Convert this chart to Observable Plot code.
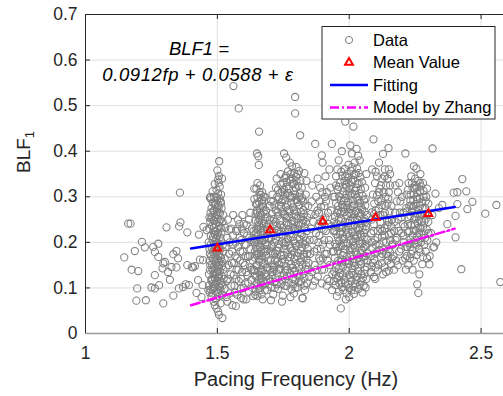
<!DOCTYPE html>
<html><head><meta charset="utf-8">
<script src="https://cdn.jsdelivr.net/npm/d3@7"></script>
<script src="https://cdn.jsdelivr.net/npm/@observablehq/plot@0.6"></script>
<style>body{margin:0;background:#fff} svg{display:block}</style>
</head><body><div id="chart"></div>
<script>
// ---- data ----
const ptsLeft = [[1.147,0.167],[1.162,0.241],[1.171,0.241],[1.175,0.140],[1.200,0.137],[1.187,0.181],[1.214,0.201],[1.225,0.189],[1.196,0.099],[1.193,0.072],[1.229,0.073],[1.257,0.190],[1.276,0.197],[1.263,0.179],[1.276,0.168],[1.263,0.128],[1.250,0.101],[1.263,0.099],[1.279,0.106],[1.295,0.066],[1.292,0.143],[1.295,0.154],[1.301,0.157],[1.307,0.233],[1.313,0.135],[1.320,0.118],[1.326,0.146],[1.333,0.174],[1.333,0.083],[1.345,0.181],[1.345,0.145],[1.351,0.165],[1.354,0.099],[1.355,0.235],[1.358,0.309],[1.360,0.244],[1.370,0.102],[1.386,0.222],[1.386,0.150],[1.392,0.106],[1.408,0.145],[1.415,0.148],[1.421,0.089],[1.427,0.117],[1.430,0.217],[1.434,0.162],[1.440,0.080],[1.446,0.161],[1.447,0.234],[1.459,0.227],[1.466,0.095],[1.444,0.106],[1.472,0.298],[1.477,0.252],[1.380,0.108],[1.403,0.146]];
const ptsCol150 = [[1.519,0.034],[1.506,0.041],[1.503,0.048],[1.497,0.055],[1.490,0.062],[1.486,0.070],[1.512,0.066],[1.495,0.075],[1.478,0.080],[1.508,0.082],[1.481,0.088],[1.497,0.091],[1.512,0.094],[1.474,0.097],[1.489,0.100],[1.505,0.103],[1.520,0.106],[1.483,0.109],[1.496,0.112],[1.511,0.115],[1.477,0.118],[1.491,0.121],[1.503,0.124],[1.516,0.127],[1.485,0.130],[1.498,0.133],[1.509,0.136],[1.472,0.139],[1.492,0.142],[1.504,0.145],[1.518,0.148],[1.480,0.151],[1.495,0.154],[1.507,0.157],[1.488,0.160],[1.500,0.163],[1.514,0.166],[1.476,0.169],[1.493,0.172],[1.506,0.175],[1.484,0.178],[1.499,0.181],[1.511,0.184],[1.479,0.187],[1.494,0.190],[1.508,0.193],[1.487,0.196],[1.501,0.199],[1.515,0.202],[1.482,0.205],[1.496,0.208],[1.510,0.211],[1.475,0.214],[1.490,0.217],[1.503,0.220],[1.486,0.224],[1.500,0.228],[1.513,0.232],[1.480,0.236],[1.494,0.240],[1.507,0.244],[1.489,0.248],[1.502,0.252],[1.478,0.256],[1.496,0.260],[1.510,0.264],[1.485,0.268],[1.499,0.272],[1.505,0.277],[1.491,0.282],[1.483,0.287],[1.498,0.292],[1.509,0.296],[1.474,0.300],[1.488,0.299],[1.503,0.307],[1.497,0.315],[1.509,0.322],[1.505,0.331],[1.503,0.338],[1.506,0.346],[1.507,0.378],[1.512,0.290],[1.476,0.295],[1.470,0.255],[1.522,0.180],[1.524,0.120],[1.468,0.130],[1.470,0.185],[1.520,0.245],[1.516,0.275],
  [1.468,0.105],[1.482,0.098],[1.510,0.101],[1.523,0.140],[1.470,0.160],[1.486,0.145],[1.502,0.138],[1.517,0.158],[1.472,0.175],[1.489,0.185],[1.505,0.188],[1.521,0.195],[1.467,0.200],[1.484,0.212],[1.499,0.216],[1.515,0.222],[1.469,0.230],[1.487,0.232],[1.508,0.236],[1.522,0.260],[1.473,0.245],[1.492,0.255],[1.505,0.266],[1.478,0.275],[1.493,0.285],[1.514,0.286],[1.480,0.120],[1.501,0.115],[1.515,0.110],[1.490,0.132],[1.471,0.090],[1.503,0.090],[1.518,0.085],[1.486,0.248],[1.496,0.300],[1.482,0.312],[1.514,0.305],[1.490,0.328],[1.518,0.340],[1.500,0.358],
  [1.479,0.115],[1.506,0.125],[1.473,0.150],[1.500,0.150],[1.483,0.165],[1.509,0.170],[1.475,0.195],[1.497,0.198],[1.493,0.225],[1.511,0.250],[1.474,0.265],[1.503,0.282],[1.488,0.270],[1.481,0.140],[1.492,0.108]];
const ptsGap155 = [[1.527,0.098],[1.533,0.145],[1.538,0.210],[1.541,0.120],[1.545,0.175],[1.548,0.088],[1.552,0.230],[1.555,0.155],[1.557,0.062],[1.560,0.195],[1.562,0.128],[1.565,0.105],[1.568,0.170],[1.571,0.225],[1.573,0.140],[1.576,0.085],[1.579,0.190],[1.581,0.115],[1.583,0.240],[1.586,0.160],[1.589,0.098],[1.591,0.205],[1.594,0.135],[1.596,0.180],[1.599,0.075],[1.601,0.220],[1.604,0.150],[1.606,0.110],[1.609,0.195],[1.611,0.238],[1.614,0.128],[1.616,0.168],[1.619,0.092],[1.621,0.210],[1.624,0.145],[1.626,0.185],[1.629,0.118],[1.631,0.230],[1.634,0.160],[1.636,0.082],[1.639,0.200],[1.641,0.138],[1.561,0.543],[1.581,0.494],[1.530,0.232],[1.545,0.228],[1.575,0.230],[1.600,0.240],[1.535,0.080],[1.590,0.078],
  [1.528,0.165],[1.531,0.190],[1.536,0.115],[1.540,0.250],[1.543,0.150],[1.547,0.200],[1.550,0.130],[1.553,0.105],[1.556,0.180],[1.559,0.215],[1.563,0.155],[1.566,0.090],[1.569,0.200],[1.572,0.120],[1.575,0.165],[1.578,0.250],[1.580,0.140],[1.584,0.210],[1.587,0.180],[1.590,0.120],[1.593,0.230],[1.597,0.155],[1.600,0.100],[1.603,0.195],[1.607,0.170],[1.610,0.135],[1.613,0.215],[1.617,0.110],[1.620,0.250],[1.623,0.170],[1.627,0.205],[1.630,0.140],[1.633,0.100],[1.637,0.225],[1.538,0.070],[1.570,0.060],[1.610,0.075],[1.625,0.265],[1.595,0.260],[1.560,0.260]];
const ptsCol165 = [[1.658,0.443],[1.650,0.395],[1.655,0.389],[1.657,0.370],[1.652,0.330],[1.648,0.318],[1.662,0.325],[1.670,0.310],[1.640,0.318],[1.675,0.300],[1.652,0.082],[1.668,0.086],[1.645,0.092],[1.680,0.095],[1.660,0.100],[1.673,0.105],[1.648,0.110],[1.686,0.114],[1.657,0.118],[1.669,0.122],[1.643,0.127],[1.680,0.131],[1.654,0.136],[1.665,0.140],[1.690,0.144],[1.647,0.149],[1.676,0.153],[1.659,0.158],[1.671,0.162],[1.641,0.167],[1.684,0.171],[1.651,0.176],[1.664,0.180],[1.678,0.185],[1.646,0.189],[1.688,0.194],[1.656,0.198],[1.670,0.203],[1.643,0.207],[1.681,0.212],[1.653,0.216],[1.666,0.221],[1.675,0.225],[1.648,0.230],[1.686,0.234],[1.658,0.239],[1.671,0.243],[1.644,0.248],[1.680,0.252],[1.655,0.257],[1.667,0.261],[1.650,0.266],[1.684,0.270],[1.661,0.275],[1.673,0.279],[1.646,0.284],[1.657,0.289],[1.669,0.293],[1.652,0.298],[1.664,0.304],[1.661,0.095],[1.685,0.125],[1.650,0.150],[1.674,0.178],[1.660,0.208],[1.691,0.220],[1.645,0.262],[1.676,0.240],[1.662,0.265],[1.640,0.200],[1.692,0.160],[1.668,0.135],[1.655,0.245],[1.682,0.195],[1.649,0.172],
  [1.638,0.140],[1.642,0.180],[1.646,0.220],[1.650,0.270],[1.654,0.105],[1.658,0.162],[1.662,0.190],[1.666,0.232],[1.670,0.285],[1.674,0.115],[1.678,0.205],[1.682,0.262],[1.686,0.145],[1.690,0.185],[1.694,0.240],[1.697,0.120],[1.698,0.280],[1.640,0.295],[1.660,0.310],[1.680,0.300],[1.644,0.085],[1.672,0.075],[1.688,0.095],[1.696,0.210],[1.663,0.128],[1.676,0.268],[1.653,0.228],[1.668,0.170],
  [1.648,0.125],[1.672,0.140],[1.656,0.175],[1.683,0.180],[1.648,0.200],[1.673,0.215],[1.660,0.250],[1.690,0.255],[1.650,0.285],[1.678,0.290],[1.665,0.110],[1.688,0.228]];
const ptsCol175 = [[1.712,0.086],[1.748,0.083],[1.790,0.088],[1.823,0.078],[1.705,0.102],[1.731,0.098],[1.762,0.104],[1.781,0.097],[1.804,0.101],[1.832,0.095],[1.717,0.113],[1.744,0.117],[1.770,0.112],[1.796,0.118],[1.818,0.114],[1.840,0.110],[1.708,0.128],[1.726,0.132],[1.753,0.127],[1.776,0.133],[1.801,0.129],[1.826,0.131],[1.715,0.146],[1.738,0.142],[1.760,0.148],[1.786,0.144],[1.809,0.147],[1.834,0.141],[1.703,0.161],[1.729,0.158],[1.747,0.163],[1.771,0.159],[1.793,0.164],[1.815,0.157],[1.838,0.162],[1.719,0.176],[1.741,0.172],[1.764,0.178],[1.782,0.173],[1.806,0.177],[1.828,0.174],[1.706,0.191],[1.733,0.188],[1.756,0.193],[1.778,0.187],[1.799,0.192],[1.821,0.189],[1.842,0.186],[1.722,0.206],[1.745,0.202],[1.767,0.208],[1.790,0.203],[1.812,0.207],[1.835,0.204],[1.710,0.221],[1.736,0.218],[1.758,0.223],[1.775,0.219],[1.797,0.224],[1.820,0.217],[1.725,0.236],[1.750,0.232],[1.769,0.238],[1.788,0.233],[1.808,0.237],[1.830,0.234],[1.713,0.251],[1.739,0.248],[1.761,0.253],[1.784,0.247],[1.803,0.252],[1.826,0.249],[1.728,0.266],[1.752,0.262],[1.773,0.268],[1.795,0.263],[1.816,0.267],[1.716,0.281],[1.742,0.278],[1.765,0.283],[1.787,0.277],[1.810,0.282],[1.833,0.279],[1.734,0.296],[1.757,0.292],[1.779,0.298],[1.800,0.293],[1.822,0.297],[1.746,0.311],[1.768,0.308],[1.791,0.313],[1.813,0.309],[1.740,0.326],[1.762,0.322],[1.785,0.328],[1.806,0.324],[1.755,0.341],[1.777,0.338],[1.798,0.344],[1.768,0.356],[1.792,0.352],[1.810,0.357],[1.795,0.519],[1.795,0.483],[1.814,0.435],[1.753,0.395],[1.761,0.386],[1.775,0.375],[1.800,0.365],[1.783,0.367],[1.823,0.077],[1.703,0.073],[1.745,0.070],[1.777,0.080],[1.820,0.320],[1.838,0.335],[1.830,0.352],[1.740,0.350],[1.727,0.300],[1.709,0.305],[1.703,0.290],[1.725,0.108],[1.758,0.120],[1.788,0.108],[1.812,0.123],[1.735,0.152],[1.768,0.168],[1.799,0.153],[1.827,0.168],[1.722,0.182],[1.751,0.198],[1.784,0.182],[1.811,0.196],[1.732,0.228],[1.762,0.243],[1.794,0.229],[1.823,0.243],[1.730,0.258],[1.770,0.272],[1.798,0.257],[1.826,0.271],[1.744,0.288],[1.775,0.302],[1.804,0.288],[1.752,0.316],[1.790,0.330],[1.714,0.140],[1.716,0.200],[1.712,0.240],[1.839,0.225],[1.841,0.255],
  [1.702,0.115],[1.720,0.122],[1.742,0.108],[1.764,0.126],[1.786,0.120],[1.808,0.112],[1.830,0.122],[1.706,0.150],[1.724,0.165],[1.744,0.155],[1.757,0.138],[1.779,0.152],[1.795,0.138],[1.817,0.165],[1.836,0.150],[1.711,0.175],[1.732,0.196],[1.753,0.185],[1.773,0.195],[1.792,0.178],[1.815,0.182],[1.833,0.195],[1.704,0.210],[1.726,0.226],[1.748,0.215],[1.770,0.228],[1.786,0.212],[1.806,0.228],[1.828,0.212],[1.708,0.262],[1.721,0.245],[1.744,0.268],[1.766,0.256],[1.780,0.240],[1.801,0.268],[1.818,0.255],[1.836,0.245],[1.712,0.290],[1.734,0.280],[1.757,0.305],[1.780,0.287],[1.795,0.305],[1.817,0.292],[1.835,0.305],[1.730,0.315],[1.750,0.330],[1.772,0.318],[1.797,0.320],[1.815,0.335],[1.760,0.346],[1.785,0.340],[1.805,0.350],[1.725,0.340],[1.845,0.280],[1.843,0.140],[1.700,0.250],[1.700,0.140],
  [1.709,0.135],[1.733,0.140],[1.766,0.140],[1.790,0.135],[1.822,0.150],[1.718,0.160],[1.752,0.172],[1.776,0.168],[1.803,0.170],[1.840,0.175],[1.727,0.182],[1.760,0.200],[1.794,0.198],[1.824,0.200],[1.714,0.215],[1.742,0.225],[1.778,0.212],[1.815,0.220],[1.738,0.238],[1.757,0.260],[1.792,0.245],[1.818,0.240],[1.722,0.270],[1.760,0.278],[1.790,0.270],[1.828,0.262],[1.748,0.295],[1.784,0.300],[1.812,0.300],[1.738,0.308],[1.764,0.333],[1.800,0.335],[1.778,0.350],[1.826,0.290],[1.705,0.180],[1.718,0.100],[1.796,0.100],[1.755,0.105],[1.830,0.105],[1.722,0.320]];
const ptsGap190 = [[1.848,0.125],[1.852,0.175],[1.856,0.230],[1.858,0.290],[1.862,0.105],[1.866,0.205],[1.869,0.150],[1.872,0.262],[1.875,0.300],[1.878,0.185],[1.881,0.125],[1.884,0.240],[1.887,0.215],[1.890,0.160],[1.893,0.278],[1.896,0.110],[1.899,0.195],[1.902,0.250],[1.905,0.140],[1.908,0.300],[1.911,0.225],[1.914,0.175],[1.917,0.120],[1.920,0.265],[1.923,0.205],[1.926,0.150],[1.929,0.320],[1.932,0.235],[1.935,0.095],[1.938,0.180],[1.871,0.416],[1.896,0.391],[1.899,0.375],[1.934,0.416],[1.880,0.340],[1.910,0.345],[1.925,0.360],[1.860,0.325],[1.890,0.320],[1.915,0.310],[1.885,0.265],[1.895,0.230],[1.905,0.205],[1.892,0.185],[1.900,0.165],[1.888,0.290],[1.910,0.255],[1.898,0.310],[1.883,0.200],[1.906,0.280],
  [1.846,0.155],[1.850,0.205],[1.854,0.262],[1.858,0.135],[1.864,0.245],[1.868,0.180],[1.874,0.220],[1.876,0.140],[1.880,0.270],[1.886,0.165],[1.892,0.245],[1.897,0.140],[1.903,0.228],[1.907,0.175],[1.912,0.290],[1.918,0.160],[1.922,0.240],[1.927,0.195],[1.931,0.270],[1.936,0.130],[1.940,0.225],[1.940,0.300],[1.870,0.115],[1.915,0.105],[1.925,0.115]];
const ptsCol200 = [[1.960,0.092],[1.990,0.088],[2.020,0.095],[2.050,0.090],[1.948,0.106],[1.972,0.102],[1.996,0.108],[2.015,0.103],[2.040,0.107],[2.062,0.101],[1.955,0.121],[1.982,0.118],[2.005,0.123],[2.028,0.117],[2.052,0.122],[1.943,0.136],[1.966,0.132],[1.988,0.138],[2.010,0.133],[2.033,0.137],[2.058,0.131],[1.953,0.151],[1.977,0.147],[1.999,0.153],[2.021,0.148],[2.045,0.152],[2.066,0.146],[1.945,0.166],[1.968,0.162],[1.991,0.168],[2.013,0.163],[2.036,0.167],[2.057,0.161],[1.958,0.181],[1.980,0.177],[2.002,0.183],[2.025,0.178],[2.048,0.182],[2.068,0.176],[1.947,0.196],[1.970,0.192],[1.993,0.198],[2.016,0.193],[2.039,0.197],[2.060,0.191],[1.957,0.211],[1.979,0.207],[2.001,0.213],[2.024,0.208],[2.047,0.212],[2.067,0.206],[1.944,0.226],[1.967,0.222],[1.989,0.228],[2.011,0.223],[2.034,0.227],[2.055,0.221],[1.954,0.241],[1.976,0.237],[1.998,0.243],[2.020,0.238],[2.043,0.242],[2.064,0.236],[1.946,0.256],[1.969,0.252],[1.992,0.258],[2.014,0.253],[2.037,0.257],[2.059,0.251],[1.959,0.271],[1.981,0.267],[2.004,0.273],[2.026,0.268],[2.049,0.272],[1.950,0.286],[1.973,0.282],[1.995,0.288],[2.018,0.283],[2.041,0.287],[2.061,0.281],[1.962,0.301],[1.984,0.297],[2.007,0.303],[2.029,0.298],[2.051,0.302],[1.956,0.316],[1.978,0.312],[2.000,0.318],[2.022,0.313],[2.044,0.317],[1.965,0.331],[1.987,0.327],[2.009,0.333],[2.031,0.328],[1.974,0.346],[1.997,0.342],[2.019,0.348],[2.042,0.343],[1.983,0.361],[2.006,0.357],[2.030,0.362],[1.970,0.112],[2.000,0.128],[2.030,0.125],[1.960,0.142],[1.985,0.157],[2.012,0.143],[2.040,0.158],[1.975,0.172],[2.005,0.188],[2.030,0.173],[2.055,0.188],[1.962,0.203],[1.990,0.217],[2.015,0.202],[2.042,0.218],[1.974,0.233],[2.003,0.248],[2.028,0.232],[2.055,0.247],[1.965,0.262],[1.993,0.276],[2.020,0.262],[2.045,0.277],[1.980,0.292],[2.010,0.307],[2.035,0.292],[1.990,0.322],[2.015,0.337],[1.997,0.370],[2.020,0.375],[1.985,0.465],[2.016,0.454],[2.004,0.413],[1.972,0.400],[2.010,0.395],[2.028,0.405],[2.034,0.390],[1.960,0.380],[2.040,0.380],[1.968,0.055],[1.987,0.075],[2.018,0.087],[1.953,0.082],[2.000,0.080],[2.065,0.350],[1.950,0.345],
  [1.942,0.115],[1.963,0.125],[1.985,0.110],[2.008,0.115],[2.023,0.108],[2.046,0.130],[2.065,0.120],[1.949,0.145],[1.972,0.158],[1.994,0.145],[2.018,0.155],[2.032,0.145],[2.052,0.168],[1.942,0.180],[1.963,0.190],[1.984,0.185],[2.008,0.172],[2.021,0.188],[2.044,0.176],[2.066,0.195],[1.951,0.218],[1.974,0.210],[1.997,0.222],[2.018,0.215],[2.036,0.204],[2.062,0.228],[1.942,0.245],[1.962,0.232],[1.985,0.245],[2.008,0.235],[2.032,0.250],[2.050,0.232],[1.954,0.265],[1.977,0.277],[2.000,0.265],[2.012,0.280],[2.036,0.265],[2.058,0.268],[1.945,0.300],[1.968,0.292],[1.990,0.305],[2.014,0.292],[2.038,0.307],[2.056,0.292],[1.960,0.322],[1.982,0.335],[2.004,0.325],[2.027,0.320],[2.048,0.332],[1.970,0.355],[1.992,0.350],[2.012,0.365],[2.036,0.352],[1.955,0.360],[2.060,0.320],[2.068,0.260],[2.070,0.160],[1.978,0.095],[2.035,0.098],[2.008,0.095],
  [1.950,0.128],[1.976,0.128],[2.016,0.128],[2.060,0.140],[1.958,0.160],[1.996,0.160],[2.028,0.162],[2.062,0.170],[1.950,0.190],[1.978,0.198],[2.012,0.185],[2.050,0.198],[1.965,0.218],[2.006,0.205],[2.030,0.215],[2.058,0.212],[1.948,0.235],[1.995,0.235],[2.040,0.232],[1.960,0.250],[2.022,0.248],[2.062,0.245],[1.970,0.268],[2.008,0.262],[2.045,0.262],[1.958,0.280],[1.990,0.282],[2.032,0.280],[2.062,0.295],[1.975,0.305],[2.022,0.305],[1.950,0.325],[1.998,0.330],[2.036,0.330],[1.985,0.345],[2.025,0.350],[1.962,0.110],[2.045,0.115],[2.000,0.100],[2.055,0.105]];
const ptsCol210 = [[2.094,0.124],[2.099,0.120],[2.128,0.130],[2.150,0.138],[2.085,0.147],[2.110,0.150],[2.135,0.145],[2.158,0.152],[2.095,0.163],[2.120,0.167],[2.145,0.160],[2.082,0.170],[2.105,0.180],[2.130,0.184],[2.155,0.178],[2.088,0.188],[2.115,0.196],[2.140,0.200],[2.098,0.205],[2.162,0.195],[2.125,0.213],[2.150,0.217],[2.083,0.220],[2.108,0.225],[2.135,0.231],[2.160,0.235],[2.093,0.240],[2.118,0.244],[2.143,0.250],[2.100,0.256],[2.128,0.260],[2.087,0.266],[2.153,0.268],[2.112,0.274],[2.138,0.280],[2.095,0.285],[2.122,0.292],[2.148,0.296],[2.105,0.303],[2.130,0.310],[2.115,0.318],[2.140,0.325],[2.098,0.330],[2.125,0.340],[2.092,0.426],[2.149,0.407],[2.128,0.394],[2.113,0.375],[2.135,0.360],[2.100,0.355],[2.155,0.350],[2.145,0.340],[2.087,0.360],[2.150,0.360],
  [2.082,0.135],[2.108,0.138],[2.140,0.135],[2.162,0.165],[2.090,0.155],[2.125,0.155],[2.150,0.185],[2.098,0.175],[2.115,0.183],[2.140,0.175],[2.085,0.200],[2.108,0.210],[2.130,0.202],[2.155,0.205],[2.092,0.225],[2.118,0.230],[2.145,0.238],[2.162,0.250],[2.085,0.250],[2.110,0.258],[2.135,0.265],[2.160,0.280],[2.100,0.270],[2.125,0.282],[2.150,0.310],[2.110,0.290],[2.138,0.300],[2.090,0.305],[2.120,0.325],[2.155,0.325],[2.105,0.345],[2.135,0.345],
  [2.100,0.145],[2.125,0.175],[2.148,0.170],[2.100,0.195],[2.125,0.225],[2.150,0.245],[2.095,0.262],[2.145,0.285],[2.112,0.310],[2.135,0.215],[2.118,0.260],[2.158,0.220]];
const ptsGap220 = [[2.168,0.170],[2.172,0.245],[2.176,0.205],[2.180,0.290],[2.184,0.150],[2.188,0.225],[2.192,0.265],[2.196,0.185],[2.200,0.300],[2.204,0.240],[2.208,0.200],[2.212,0.165],[2.216,0.275],[2.175,0.325],[2.190,0.330],[2.205,0.215],[2.170,0.140],[2.198,0.255],
  [2.166,0.195],[2.170,0.225],[2.174,0.265],[2.178,0.160],[2.182,0.210],[2.186,0.250],[2.190,0.180],[2.194,0.290],[2.198,0.220],[2.202,0.160],[2.206,0.265],[2.210,0.235],[2.214,0.190],[2.218,0.305],[2.185,0.310],[2.215,0.140]];
const ptsCol225 = [[2.230,0.165],[2.255,0.172],[2.280,0.168],[2.224,0.150],[2.277,0.152],[2.304,0.152],[2.258,0.108],[2.262,0.089],[2.240,0.140],[2.266,0.130],[2.240,0.182],[2.265,0.186],[2.290,0.180],[2.220,0.190],[2.248,0.197],[2.272,0.200],[2.232,0.206],[2.296,0.204],[2.258,0.213],[2.283,0.217],[2.222,0.222],[2.245,0.226],[2.270,0.231],[2.294,0.228],[2.235,0.238],[2.260,0.242],[2.285,0.246],[2.225,0.252],[2.250,0.256],[2.275,0.260],[2.298,0.262],[2.238,0.267],[2.262,0.271],[2.288,0.275],[2.228,0.280],[2.252,0.284],[2.277,0.288],[2.243,0.293],[2.268,0.297],[2.292,0.300],[2.233,0.305],[2.258,0.309],[2.282,0.313],[2.247,0.318],[2.272,0.323],[2.238,0.330],[2.262,0.335],[2.316,0.406],[2.213,0.395],[2.245,0.367],[2.255,0.362],[2.235,0.345],[2.270,0.350],[2.250,0.325],[2.252,0.225],[2.265,0.250],[2.240,0.275],[2.275,0.210],[2.258,0.295],[2.232,0.190],[2.280,0.235],[2.245,0.250],[2.268,0.280],
  [2.218,0.170],[2.245,0.160],[2.270,0.178],[2.295,0.165],[2.228,0.198],[2.255,0.195],[2.285,0.195],[2.240,0.215],[2.265,0.220],[2.300,0.220],[2.222,0.240],[2.248,0.240],[2.275,0.245],[2.300,0.245],[2.232,0.258],[2.258,0.262],[2.288,0.262],[2.218,0.268],[2.245,0.280],[2.278,0.275],[2.300,0.285],[2.232,0.292],[2.255,0.300],[2.282,0.300],[2.222,0.315],[2.245,0.305],[2.268,0.312],[2.295,0.318],[2.255,0.320],[2.280,0.330],[2.225,0.330],[2.250,0.340],
  [2.235,0.175],[2.262,0.200],[2.288,0.210],[2.228,0.225],[2.262,0.232],[2.290,0.252],[2.235,0.280],[2.268,0.262],[2.290,0.290],[2.240,0.320],[2.268,0.330],[2.250,0.205]];
const ptsRight = [[2.327,0.307],[2.396,0.309],[2.429,0.339],[2.410,0.310],[2.444,0.312],[2.467,0.289],[2.448,0.273],[2.410,0.284],[2.403,0.258],[2.403,0.211],[2.425,0.141],[2.516,0.263],[2.558,0.282],[2.573,0.113],[2.319,0.189],[2.322,0.190],[2.372,0.240],[2.353,0.282],[2.340,0.275],[2.310,0.220],[2.315,0.260],[2.330,0.200],[2.305,0.170]];

const meanX = [1.5, 1.7, 1.9, 2.1, 2.3];
const meanY = [0.187, 0.227, 0.246, 0.254, 0.263];
const fitX = [1.4, 2.4];
const fitY = [0.1865, 0.2777];
const zhangX = [1.4, 2.4];
const zhangY = [0.062, 0.230];
const xTicks = [1, 1.5, 2, 2.5];
const yTicks = [0, 0.1, 0.2, 0.3, 0.4, 0.5, 0.6, 0.7];
const legendLabels = ["Data", "Mean Value", "Fitting", "Model by Zhang"];
const eqLine1 = "BLF1 =";
const eqLine2 = "0.0912fp + 0.0588 + ε";

// ---- build tables ----
const scatter = [ptsLeft, ptsCol150, ptsGap155, ptsCol165, ptsCol175, ptsGap190, ptsCol200, ptsCol210, ptsGap220, ptsCol225, ptsRight]
  .flat().map(([x, y]) => ({x, y}));
const means = meanX.map((x, i) => ({x, y: meanY[i]}));
const fit = fitX.map((x, i) => ({x, y: fitY[i]}));
const zhang = zhangX.map((x, i) => ({x, y: zhangY[i]}));

const FONT = "'Liberation Sans', Arial, Helvetica, sans-serif";
const TXT = "#262626";
const GRAY = "#808080";
const TRI_R = 2.9;

const svg = Plot.plot({
  width: 503, height: 396,
  marginLeft: 85, marginRight: 0, marginTop: 14, marginBottom: 63,
  x: {domain: [1, 2.585]},
  y: {domain: [0, 0.7]},
  style: {fontFamily: FONT, background: "#fff", color: TXT},
  marks: [
    Plot.gridX(xTicks, {stroke: "#dfdfdf", strokeOpacity: 1}),
    Plot.gridY(yTicks, {stroke: "#dfdfdf", strokeOpacity: 1}),
    Plot.dot(scatter, {x: "x", y: "y", r: 3.6, stroke: GRAY, strokeWidth: 1.05, fill: "none"}),
    Plot.line(fit, {x: "x", y: "y", stroke: "#0000ff", strokeWidth: 2.4}),
    Plot.line(zhang, {x: "x", y: "y", stroke: "#ff00ff", strokeWidth: 2.4, strokeDasharray: "9,3,2,3"}),
    Plot.dot(means, {x: "x", y: "y", symbol: "triangle", r: TRI_R, stroke: "#ff0000", strokeWidth: 2, fill: "none"}),
    Plot.ruleY([0], {stroke: "#999", strokeWidth: 1.6}),
    Plot.ruleY([0.7], {stroke: TXT, strokeWidth: 1}),
    Plot.ruleX([1], {stroke: TXT, strokeWidth: 1}),
    Plot.tickX(xTicks.slice(1), {stroke: TXT, insetTop: 314}),
    Plot.tickX(xTicks.slice(1), {stroke: TXT, insetBottom: 314}),
    Plot.tickY(yTicks.slice(1, -1), {stroke: TXT, insetRight: 413}),
    Plot.axisX(xTicks, {tickSize: 0, tickPadding: 13, fontSize: 17.5, fill: TXT, label: null, tickFormat: d => String(d)}),
    Plot.axisY(yTicks, {tickSize: 0, tickPadding: 8, fontSize: 17.5, fill: TXT, label: null, tickFormat: d => String(d)})
  ]
});
document.getElementById("chart").appendChild(svg);

// ---- texts, labels, legend ----
const s = d3.select(svg);
s.append("text").attr("x", 296).attr("y", 386).attr("text-anchor", "middle")
  .attr("font-family", FONT).attr("font-size", 20).attr("fill", TXT).text("Pacing Frequency (Hz)");
const yl = s.append("text").attr("transform", "translate(30,173) rotate(-90)").attr("text-anchor", "start")
  .attr("font-family", FONT).attr("font-size", 19).attr("fill", TXT);
yl.append("tspan").text("BLF");
yl.append("tspan").attr("font-size", 13).attr("dy", 4).text("1");
s.append("text").attr("x", 199).attr("y", 55).attr("text-anchor", "middle")
  .attr("font-family", FONT).attr("font-style", "italic").attr("font-size", 18.5).attr("fill", "#000").text(eqLine1);
s.append("text").attr("x", 198).attr("y", 81).attr("text-anchor", "middle").attr("letter-spacing", 0.6)
  .attr("font-family", FONT).attr("font-style", "italic").attr("font-size", 18.5).attr("fill", "#000").text(eqLine2);
const lg = s.append("g").attr("text-anchor", "start");
lg.append("rect").attr("x", 322).attr("y", 26.5).attr("width", 173).attr("height", 92.5)
  .attr("fill", "#fff").attr("stroke", TXT).attr("stroke-width", 1);
const rowsY = [40, 62.5, 85, 107.5];
lg.append("circle").attr("cx", 349).attr("cy", rowsY[0]).attr("r", 3.6).attr("fill", "none").attr("stroke", GRAY);
lg.append("path").attr("d", d3.symbol(d3.symbolTriangle, Math.PI * TRI_R * TRI_R)()).attr("transform", `translate(349,${rowsY[1]})`)
  .attr("fill", "none").attr("stroke", "#ff0000").attr("stroke-width", 2);
lg.append("line").attr("x1", 330).attr("x2", 368).attr("y1", rowsY[2]).attr("y2", rowsY[2]).attr("stroke", "#0000ff").attr("stroke-width", 2.4);
lg.append("line").attr("x1", 330).attr("x2", 368).attr("y1", rowsY[3]).attr("y2", rowsY[3]).attr("stroke", "#ff00ff").attr("stroke-width", 2.4).attr("stroke-dasharray", "9,3,2,3");
legendLabels.forEach((t, i) => {
  lg.append("text").attr("x", 373).attr("y", rowsY[i]).attr("dy", "0.36em").attr("text-anchor", "start")
    .attr("font-family", FONT).attr("font-size", 16.5).attr("fill", "#000").text(t);
});
</script>
</body></html>
